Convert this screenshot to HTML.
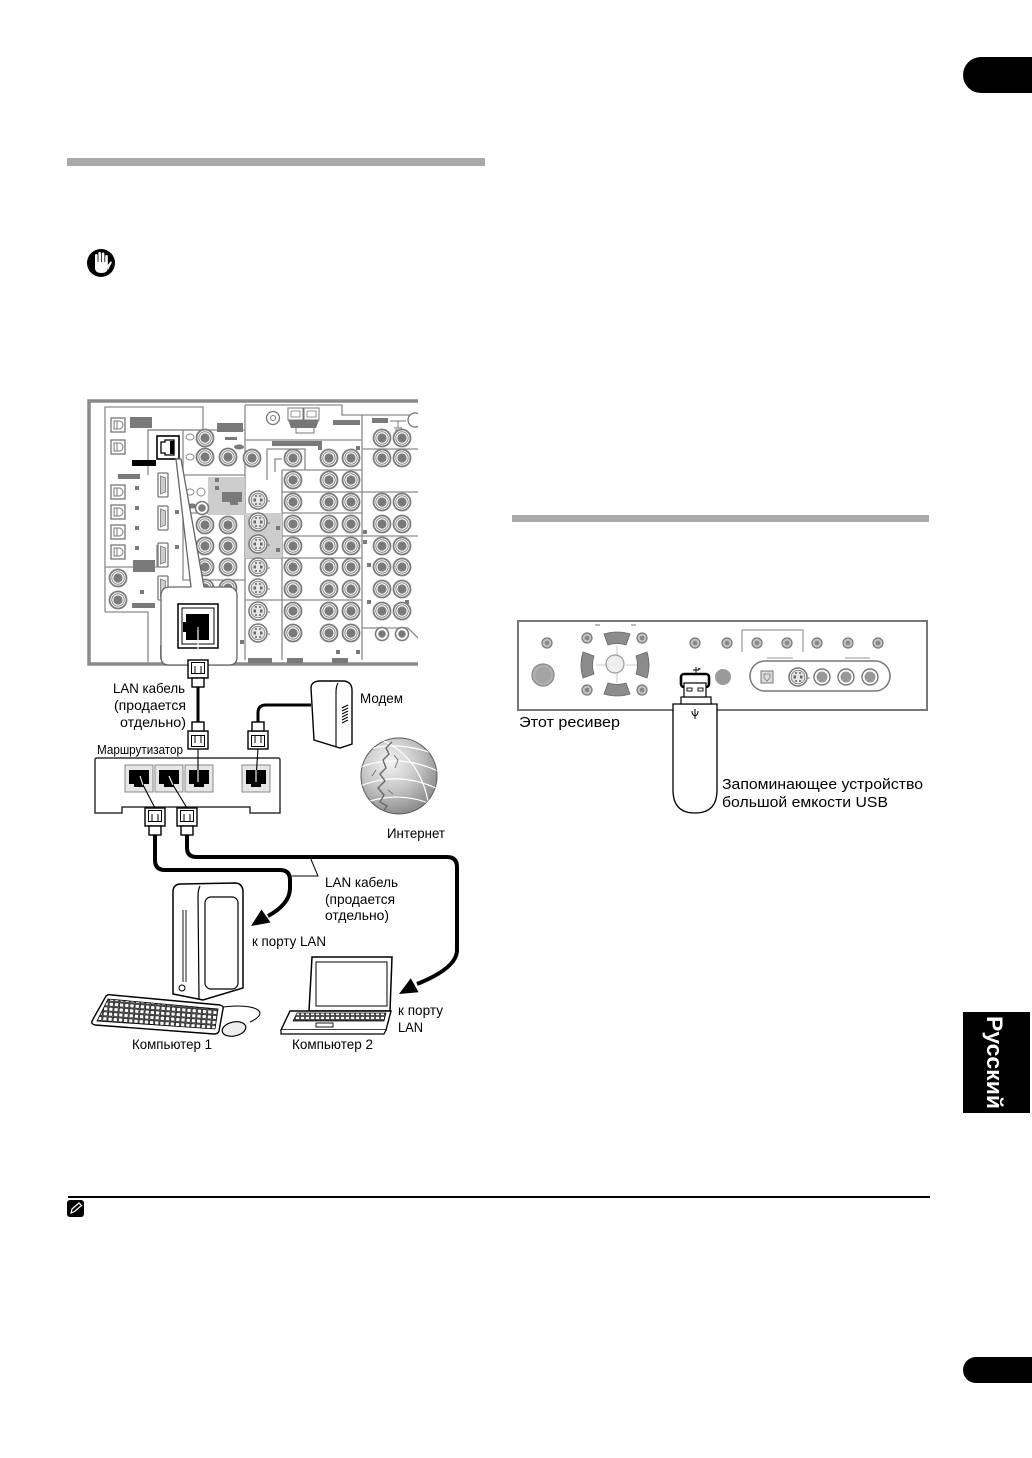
<!DOCTYPE html>
<html><head><meta charset="utf-8"><style>
html,body{margin:0;padding:0;background:#fff;}
body{width:1032px;height:1458px;overflow:hidden;position:relative;}
svg{position:absolute;left:0;top:0;}
</style></head><body>
<svg width="1032" height="1458" viewBox="0 0 1032 1458" xmlns="http://www.w3.org/2000/svg" font-family="'Liberation Sans', Arial, sans-serif">
<defs>
<g id="j"><circle r="8.5" fill="#fff" stroke="#7a7a7a" stroke-width="1.8"/><circle r="6.2" fill="#fff" stroke="#8a8a8a" stroke-width="1"/><circle r="4.6" fill="#7a7a7a"/></g>
<g id="js"><circle r="6.5" fill="#fff" stroke="#7a7a7a" stroke-width="1.6"/><circle r="3.8" fill="#7a7a7a"/></g>
<g id="sv"><circle r="9" fill="#fff" stroke="#7a7a7a" stroke-width="1.6"/><circle r="6.8" fill="#e6e6e6" stroke="#888"/><rect x="-4.5" y="-1.5" width="2.5" height="3" fill="#666"/><rect x="2" y="-1.5" width="2.5" height="3" fill="#666"/><circle cx="-2" cy="-4" r="1" fill="#666"/><circle cx="2" cy="-4" r="1" fill="#666"/><circle cx="-2" cy="4" r="1" fill="#666"/><circle cx="2" cy="4" r="1" fill="#666"/><circle cx="11" cy="1" r="0.8" fill="#666"/></g>
<g id="opt"><rect x="-7" y="-7" width="14" height="14" fill="#fff" stroke="#777" stroke-width="1.3"/><path d="M-4,-4 H1 A4,4 0 0 1 1,4 H-4 Z" fill="#fff" stroke="#777"/><line x1="-1" y1="-4" x2="-1" y2="4" stroke="#777"/></g>
<g id="hdmi"><rect x="-5" y="-12" width="10" height="24" rx="1" fill="#fff" stroke="#777" stroke-width="1.3"/><path d="M-2.5,-9 L2.5,-7 V7 L-2.5,9 Z" fill="#ccc" stroke="#777" stroke-width="0.8"/></g>
<g id="plug"><rect x="-10" y="0" width="20" height="18" fill="#fff" stroke="#000" stroke-width="1.4"/><rect x="-6.5" y="2.5" width="13" height="11" fill="#fff" stroke="#000" stroke-width="1"/><path d="M-3,6 V13.5 M3,6 V13.5" stroke="#000" stroke-width="1"/><rect x="-6" y="18" width="12" height="9" fill="#fff" stroke="#000" stroke-width="1.4"/></g>
<g id="rp"><rect x="0" y="0" width="28" height="27" fill="#e6e6e6" stroke="#888" stroke-width="1"/><path d="M4,5 H24 V19 H19 V22 H9 V19 H4 Z" fill="#000"/></g>
<g id="fd"><circle r="5" fill="#c4c4c4" stroke="#777" stroke-width="1.2"/><circle r="2.4" fill="#8a8a8a"/></g>
<pattern id="kp" width="5.2" height="5" patternUnits="userSpaceOnUse" patternTransform="rotate(4.5)"><rect x="0.4" y="0.4" width="4.2" height="4" fill="#fff" stroke="#111" stroke-width="0.8"/></pattern>
<pattern id="kp2" width="5" height="4" patternUnits="userSpaceOnUse"><rect x="0.4" y="0.4" width="4" height="3.2" fill="#fff" stroke="#111" stroke-width="0.7"/></pattern>
<radialGradient id="gl" cx="0.38" cy="0.32" r="0.7"><stop offset="0" stop-color="#f4f4f4"/><stop offset="0.55" stop-color="#c4c4c4"/><stop offset="1" stop-color="#8c8c8c"/></radialGradient>
<clipPath id="pc"><rect x="86" y="398" width="332" height="268"/></clipPath>
<clipPath id="gc"><circle cx="399" cy="776" r="38"/></clipPath>
</defs>

<!-- header tabs & bars -->
<path d="M981,57 H1032 V93 H981 A18,18 0 0 1 981,57 Z" fill="#000"/>
<path d="M976,1357 H1032 V1383 H976 A13,13 0 0 1 976,1357 Z" fill="#000"/>
<rect x="67" y="158" width="418" height="8" fill="#aaa"/>
<rect x="512" y="515" width="417" height="7" fill="#aaa"/>

<!-- hand icon -->
<circle cx="101" cy="263" r="14" fill="#000"/>
<g fill="#fff"><rect x="95" y="254" width="2.6" height="10" rx="1.3"/><rect x="98.4" y="252" width="2.6" height="11" rx="1.3"/><rect x="101.8" y="252.5" width="2.6" height="11" rx="1.3"/><rect x="105.2" y="255" width="2.6" height="9" rx="1.3"/><path d="M95,262 H107.8 V268 Q107.8,273 101,273 Q96,273 95,269 Z"/><path d="M107,266 L110.5,261.5 Q112,261 111.6,263 L108,270 Z"/></g>

<!-- Russian tab -->
<rect x="963" y="1012" width="67" height="101" fill="#000"/>
<text transform="translate(987,1016) rotate(90)" font-size="22" font-weight="bold" fill="#fff" textLength="93" lengthAdjust="spacingAndGlyphs">Русский</text>

<!-- footnote -->
<rect x="68" y="1196" width="862" height="2" fill="#000"/>
<rect x="67" y="1200" width="17" height="17" rx="3" fill="#000"/>
<path d="M71,1213 L72,1209 L79,1203 L81.5,1205.5 L74.5,1211.5 Z" fill="none" stroke="#fff" stroke-width="1.2"/>

<!-- ================= RECEIVER BACK PANEL ================= -->
<g clip-path="url(#pc)">
<g fill="none" stroke="#8a8a8a" stroke-width="1.3">
<path d="M105,612 V407 H203 V430 H148 V475"/>
<path d="M148,430 H245"/>
<path d="M183,430 V580 H245"/>
<path d="M183,475 H245"/>
<path d="M183,513 H245"/>
<path d="M245,405 V660"/>
<path d="M245,405 H342 V415 H418"/>
<path d="M245,440 H362"/>
<path d="M362,415 V660"/>
<path d="M362,449 H418"/>
<path d="M267,480 V449 H305 V470"/>
<path d="M282,470 V660"/>
<path d="M282,470 H362"/>
<path d="M282,492 H418"/>
<path d="M282,513 H362"/>
<path d="M282,536 H418"/>
<path d="M245,558 H362"/>
<path d="M245,600 H362"/>
<path d="M362,628 H408 L418,638"/>
<path d="M105,612 H148 V662"/>
<path d="M105,567 H157 V545"/>
<path d="M275,472 V459 H282"/>
</g>
<rect x="208" y="477" width="37" height="38" fill="#cdcdcd"/>
<rect x="245" y="513" width="37" height="45" fill="#cdcdcd"/>

<!-- frame -->
<path d="M418,401 H89 V664 H418" fill="none" stroke="#8a8a8a" stroke-width="3.5"/>

<!-- grey labels -->
<g fill="#7a7a7a">
<rect x="130" y="417" width="22" height="11"/><rect x="217" y="423" width="26" height="9"/><rect x="225" y="437" width="12" height="3"/>
<rect x="118" y="474" width="22" height="5"/><rect x="222" y="492" width="20" height="10"/><rect x="133" y="560" width="22" height="12"/>
<rect x="333" y="420" width="27" height="5"/><rect x="372" y="418" width="16" height="5"/><rect x="272" y="441" width="50" height="5"/>
<rect x="132" y="603" width="23" height="5"/><rect x="248" y="658" width="24" height="5"/><rect x="287" y="658" width="16" height="5"/><rect x="332" y="658" width="16" height="5"/>
<ellipse cx="239" cy="447" rx="5" ry="2.5"/><ellipse cx="192" cy="506" rx="5" ry="2.5"/>
<rect x="135" y="486" width="4" height="4"/><rect x="135" y="506" width="4" height="4"/><rect x="135" y="526" width="4" height="4"/><rect x="135" y="546" width="4" height="4"/>
<rect x="175" y="510" width="4" height="4"/><rect x="175" y="545" width="4" height="4"/><rect x="215" y="478" width="4" height="4"/><rect x="215" y="486" width="4" height="4"/>
<rect x="318" y="446" width="4" height="4"/><rect x="356" y="446" width="4" height="4"/><rect x="276" y="526" width="4" height="4"/><rect x="276" y="548" width="4" height="4"/>
<rect x="363" y="530" width="4" height="4"/><rect x="363" y="540" width="4" height="4"/><rect x="336" y="650" width="4" height="4"/><rect x="356" y="650" width="4" height="4"/>
<rect x="142" y="563" width="4" height="4"/><rect x="140" y="590" width="4" height="4"/><rect x="197" y="504" width="7" height="3"/><rect x="230" y="502" width="8" height="3"/>
<rect x="367" y="563" width="4" height="4"/><rect x="367" y="600" width="4" height="4"/><rect x="405" y="600" width="4" height="4"/><rect x="240" y="640" width="4" height="4"/><rect x="160" y="645" width="5" height="14"/>
</g>
<rect x="132" y="460" width="24" height="6" fill="#000"/>

<!-- top connectors -->
<circle cx="273" cy="418" r="6.5" fill="#fff" stroke="#777" stroke-width="1.3"/><circle cx="273" cy="418" r="2.5" fill="none" stroke="#777"/>
<rect x="288" y="408" width="15" height="12" fill="#fff" stroke="#777"/><rect x="304" y="408" width="15" height="12" fill="#fff" stroke="#777"/>
<rect x="291" y="411" width="9" height="6" fill="none" stroke="#777" stroke-width="0.8"/><rect x="307" y="411" width="9" height="6" fill="none" stroke="#777" stroke-width="0.8"/>
<path d="M288,420 H319 L316,428 H291 Z" fill="#777"/>
<path d="M296,428 V433 H314 V428" fill="none" stroke="#777"/>
<circle cx="415" cy="420" r="7" fill="#fff" stroke="#777" stroke-width="1.3"/>
<path d="M390,421 H406 M398,421 V428 M394,428 H402 M395,430 H401" stroke="#777" stroke-width="1"/>

<!-- small ovals -->
<ellipse cx="190" cy="437" rx="4" ry="3" fill="#fff" stroke="#888"/><ellipse cx="190" cy="457" rx="4" ry="3" fill="#fff" stroke="#888"/>
<ellipse cx="190" cy="492" rx="4" ry="3" fill="#fff" stroke="#888"/><circle cx="201" cy="492" r="4" fill="#fff" stroke="#888"/>

<!-- optical -->
<use href="#opt" x="118" y="425"/><use href="#opt" x="118" y="447"/><use href="#opt" x="118" y="492"/><use href="#opt" x="118" y="512"/><use href="#opt" x="118" y="532"/><use href="#opt" x="118" y="552"/>
<!-- hdmi -->
<use href="#hdmi" x="163" y="485"/><use href="#hdmi" x="163" y="518"/><use href="#hdmi" x="163" y="555"/><use href="#hdmi" x="163" y="588"/>
<!-- left jacks -->
<use href="#j" x="118" y="578"/><use href="#j" x="118" y="600"/>
<use href="#j" x="205" y="438"/><use href="#j" x="205" y="457"/><use href="#j" x="228" y="457"/>
<use href="#js" x="202" y="508"/>
<use href="#j" x="205" y="525"/><use href="#j" x="228" y="525"/><use href="#j" x="205" y="546"/><use href="#j" x="228" y="546"/><use href="#j" x="205" y="567"/><use href="#j" x="228" y="567"/><use href="#j" x="205" y="588"/><use href="#j" x="228" y="588"/>
<use href="#j" x="252" y="458"/>
<!-- s-video -->
<use href="#sv" x="258" y="500"/><use href="#sv" x="258" y="522"/><use href="#sv" x="258" y="544"/><use href="#sv" x="258" y="567"/><use href="#sv" x="258" y="588"/><use href="#sv" x="258" y="611"/><use href="#sv" x="258" y="633"/>
<!-- grid jacks -->
<use href="#j" x="293" y="458"/><use href="#j" x="329" y="458"/><use href="#j" x="351" y="458"/>
<use href="#j" x="293" y="480"/><use href="#j" x="329" y="480"/><use href="#j" x="351" y="480"/>
<use href="#j" x="293" y="502"/><use href="#j" x="329" y="502"/><use href="#j" x="351" y="502"/>
<use href="#j" x="293" y="524"/><use href="#j" x="329" y="524"/><use href="#j" x="351" y="524"/>
<use href="#j" x="293" y="546"/><use href="#j" x="329" y="546"/><use href="#j" x="351" y="546"/>
<use href="#j" x="293" y="567"/><use href="#j" x="329" y="567"/><use href="#j" x="351" y="567"/>
<use href="#j" x="293" y="589"/><use href="#j" x="329" y="589"/><use href="#j" x="351" y="589"/>
<use href="#j" x="293" y="611"/><use href="#j" x="329" y="611"/><use href="#j" x="351" y="611"/>
<use href="#j" x="293" y="633"/><use href="#j" x="329" y="633"/><use href="#j" x="351" y="633"/>
<use href="#j" x="382" y="438"/><use href="#j" x="402" y="438"/><use href="#j" x="382" y="458"/><use href="#j" x="402" y="458"/>
<use href="#j" x="382" y="502"/><use href="#j" x="402" y="502"/><use href="#j" x="382" y="524"/><use href="#j" x="402" y="524"/>
<use href="#j" x="382" y="546"/><use href="#j" x="402" y="546"/><use href="#j" x="382" y="567"/><use href="#j" x="402" y="567"/>
<use href="#j" x="382" y="589"/><use href="#j" x="402" y="589"/><use href="#j" x="382" y="611"/><use href="#j" x="402" y="611"/>
<use href="#js" x="382" y="634"/><use href="#js" x="402" y="634"/>

<!-- small LAN port -->
<rect x="157" y="436" width="22" height="23" fill="#fff" stroke="#000" stroke-width="1.6"/>
<path d="M161,442 H165 V440 H174 V455 H165 V453 H161 Z" fill="#fff" stroke="#000" stroke-width="1.3"/>
<rect x="170" y="441" width="4" height="13" fill="#000"/>

<!-- callout -->
<path d="M161,596 Q161,587 170,587 L191,587 L176,459 L181,459 L204,587 L228,587 Q237,587 237,596 L237,657 Q237,665 229,665 L169,665 Q161,665 161,657 Z" fill="#fff" stroke="#666" stroke-width="1.3" stroke-linejoin="round"/>
<rect x="178" y="604" width="40" height="44" fill="#fff" stroke="#000" stroke-width="1.5"/>
<path d="M182,608 H214 V644 H182 Z" fill="none" stroke="#000" stroke-width="1"/>
<path d="M186,614 H209 V640 H186 V632 H183 V622 H186 Z" fill="#000"/>
<line x1="198" y1="627" x2="198" y2="668" stroke="#fff" stroke-width="1"/>
</g>

<!-- cable from receiver to router -->
<line x1="198" y1="630" x2="198" y2="662" stroke="#fff" stroke-width="1.2"/>
<use href="#plug" x="198" y="660"/>
<line x1="198" y1="687" x2="198" y2="722" stroke="#000" stroke-width="3"/>
<use href="#plug" transform="translate(198,749) scale(1,-1)"/>

<!-- modem -->
<path d="M311,688 C311,683 315,681 320,681 L343,681 C349,681 352,685 352,690 L352,744 L340,748 L314,740 Z" fill="#fff" stroke="#000" stroke-width="1.4"/>
<path d="M338,683 C336,686 336,690 336,694 L336,747" fill="none" stroke="#000" stroke-width="1.1"/>
<path d="M342,708 L348,705 M342,711 L348,708 M342,714 L348,711 M342,717 L348,714 M342,720 L348,717 M342,723 L348,720" stroke="#000" stroke-width="1"/>
<path d="M311,705 H266 Q258,705 258,713 V722" fill="none" stroke="#000" stroke-width="3"/>
<use href="#plug" transform="translate(258,749) scale(1,-1)"/>

<!-- router -->
<path d="M95,760 Q95,758 97,758 H278 Q280,758 280,760 V813 H250 V807 H122 V813 H95 Z" fill="#fff" stroke="#333" stroke-width="1.5"/>
<use href="#rp" x="125" y="765"/><use href="#rp" x="155" y="765"/><use href="#rp" x="185" y="765"/><use href="#rp" x="242" y="765"/>
<g stroke="#000" stroke-width="1.1" fill="none">
<line x1="198" y1="749" x2="198" y2="778"/>
<line x1="258" y1="749" x2="256" y2="778"/>
</g>
<g stroke="#fff" stroke-width="1.1"><line x1="198" y1="770" x2="198" y2="782"/><line x1="256" y1="770" x2="256" y2="782"/><line x1="140" y1="776" x2="143" y2="785"/><line x1="169" y1="776" x2="173" y2="785"/></g>
<g stroke="#000" stroke-width="1.1"><line x1="143" y1="785" x2="155" y2="808"/><line x1="173" y1="785" x2="187" y2="808"/></g>
<use href="#plug" x="155" y="808"/><use href="#plug" x="187" y="808"/>

<!-- globe -->
<circle cx="399" cy="776" r="38" fill="url(#gl)" stroke="#555" stroke-width="1"/>
<g clip-path="url(#gc)">
<g fill="none" stroke="#fff" stroke-width="1.2">
<path d="M360,752 Q395,738 440,756"/><path d="M358,768 Q398,752 440,772"/><path d="M360,786 Q400,770 440,790"/><path d="M364,803 Q402,789 440,808"/><path d="M382,740 Q425,760 430,815"/>
</g>
<path d="M392,742 L386,748 L389,754 L383,760 L386,768 L380,774 L385,781 L378,788 L384,795 L380,802 L387,806 L383,812" fill="none" stroke="#6a6a6a" stroke-width="1.4"/>
<path d="M394,755 L398,760 L395,768 M388,790 L393,794 M376,770 L372,776" fill="none" stroke="#777" stroke-width="1"/>
</g>

<!-- lower cables -->
<path d="M155,835 V860 Q155,870 165,870 H280 Q290,870 290,880 V888 Q290,904 268,916" fill="none" stroke="#000" stroke-width="4"/>
<path d="M251,926 L270.5,922.5 L261.5,909.5 Z" fill="#000"/>
<path d="M187,835 V848 Q187,857 197,857 H447 Q457,857 457,867 V950 Q457,968 417,984" fill="none" stroke="#000" stroke-width="4"/>
<path d="M399,994 L418.6,992.2 L410.8,978.2 Z" fill="#000"/>
<path d="M310,857 L318,876 L292,876" fill="none" stroke="#000" stroke-width="1"/>

<!-- PC tower -->
<path d="M173,892 Q173,884 181,884 L236,883 Q243,884 243,892 L243,988 L203,1000 L173,994 Z" fill="#fff" stroke="#000" stroke-width="1.5"/>
<path d="M200,886 Q198,890 198,896 L199,999" fill="none" stroke="#000" stroke-width="1.2"/>
<rect x="205" y="897" width="33" height="92" rx="6" fill="none" stroke="#000" stroke-width="1.2"/>
<path d="M183,910 V982 M186,910 V982" stroke="#000" stroke-width="0.9"/>
<circle cx="182" cy="988" r="3" fill="#fff" stroke="#000"/>
<!-- keyboard -->
<path d="M106,996 Q108,994 112,995 L220,1005 Q224,1006 223,1009 L219,1031 Q218,1034 214,1034 L95,1025 Q91,1024 92,1021 Z" fill="#fff" stroke="#000" stroke-width="1.4"/>
<path d="M108,999 L218,1009 L215,1029 L97,1021 Z" fill="url(#kp)" stroke="#000" stroke-width="0.8"/>
<!-- mouse -->
<path d="M223,1007 C255,1003 272,1012 250,1022" fill="none" stroke="#000" stroke-width="1"/>
<ellipse cx="234" cy="1029" rx="12" ry="7" transform="rotate(-12 234 1029)" fill="#eee" stroke="#000" stroke-width="1.2"/>

<!-- laptop -->
<path d="M312,957 L392,957 L390,1011 L309,1011 Z" fill="#fff" stroke="#000" stroke-width="1.5"/>
<rect x="316" y="962" width="71" height="44" fill="#fff" stroke="#000" stroke-width="1"/>
<path d="M290,1011 L391,1011 L386,1030 L281,1030 Z" fill="#fff" stroke="#000" stroke-width="1.4"/>
<path d="M281,1030 V1034 H384 L386,1030" fill="#fff" stroke="#000" stroke-width="1.2"/>
<path d="M297,1013 L386,1013 L384,1021 L293,1021 Z" fill="url(#kp2)" stroke="#000" stroke-width="0.7"/>
<rect x="316" y="1023" width="17" height="4" fill="#fff" stroke="#000" stroke-width="0.9"/>

<!-- labels left diagram -->
<g font-size="14" fill="#000">
<text x="113" y="693" textLength="72" lengthAdjust="spacingAndGlyphs">LAN кабель</text>
<text x="114" y="710" textLength="72" lengthAdjust="spacingAndGlyphs">(продается</text>
<text x="120" y="727" textLength="66" lengthAdjust="spacingAndGlyphs">отдельно)</text>
<text x="97" y="754" font-size="13" textLength="86" lengthAdjust="spacingAndGlyphs">Маршрутизатор</text>
<text x="360" y="703" textLength="43" lengthAdjust="spacingAndGlyphs">Модем</text>
<text x="387" y="838" textLength="58" lengthAdjust="spacingAndGlyphs">Интернет</text>
<text x="325" y="887" textLength="73" lengthAdjust="spacingAndGlyphs">LAN кабель</text>
<text x="325" y="904" textLength="70" lengthAdjust="spacingAndGlyphs">(продается</text>
<text x="325" y="920" textLength="64" lengthAdjust="spacingAndGlyphs">отдельно)</text>
<text x="252" y="946" textLength="74" lengthAdjust="spacingAndGlyphs">к порту LAN</text>
<text x="398" y="1015" textLength="45" lengthAdjust="spacingAndGlyphs">к порту</text>
<text x="398" y="1032" textLength="25" lengthAdjust="spacingAndGlyphs">LAN</text>
<text x="132" y="1049" textLength="80" lengthAdjust="spacingAndGlyphs">Компьютер 1</text>
<text x="292" y="1049" textLength="81" lengthAdjust="spacingAndGlyphs">Компьютер 2</text>
</g>

<!-- ================= FRONT PANEL ================= -->
<rect x="518" y="621" width="409" height="89" fill="#fff" stroke="#777" stroke-width="2"/>
<circle cx="543" cy="675" r="11" fill="#b0b0b0" stroke="#888" stroke-width="1.3"/><circle cx="543" cy="675" r="8" fill="#a4a4a4"/>
<use href="#fd" x="547" y="643"/><use href="#fd" x="587" y="638"/><use href="#fd" x="642" y="638"/><use href="#fd" x="587" y="690"/><use href="#fd" x="642" y="690"/>
<use href="#fd" x="695" y="643"/><use href="#fd" x="727" y="643"/><use href="#fd" x="757" y="643"/><use href="#fd" x="787" y="643"/><use href="#fd" x="817" y="643"/><use href="#fd" x="848" y="643"/><use href="#fd" x="878" y="643"/>
<path d="M595,625 H600 M631,625 H636" stroke="#777"/>
<path d="M617,645 V655 M617,673 V683 M596,665 H606 M626,665 H638" stroke="#bbb" stroke-width="0.8"/>
<circle cx="615" cy="664" r="9" fill="#eee" stroke="#999" stroke-width="1.2"/>
<g fill="#8c8c8c" stroke="#666" stroke-width="0.8">
<path d="M604,634 Q617,630 630,634 L626,645 Q617,642 608,645 Z"/>
<path d="M604,694 Q617,698 630,694 L626,683 Q617,686 608,683 Z"/>
<path d="M583,652 Q579,665 583,678 L594,674 Q591,665 594,656 Z"/>
<path d="M647,652 Q651,665 647,678 L636,674 Q639,665 636,656 Z"/>
</g>
<path d="M742,652 V630 H803 V652" fill="none" stroke="#999" stroke-width="1.2"/>
<path d="M767,658 H793 M845,658 H870" stroke="#999" stroke-width="1"/>
<circle cx="723" cy="677" r="8" fill="#9a9a9a"/>
<rect x="750" y="661" width="140" height="30" rx="15" fill="#fff" stroke="#777" stroke-width="1.5"/>
<rect x="761" y="671" width="12" height="12" fill="#ddd" stroke="#777"/><path d="M764,674 H770 V678 L767,681 L764,678 Z" fill="none" stroke="#777" stroke-width="0.8"/>
<use href="#sv" x="798" y="677"/>
<g><circle cx="822" cy="677" r="8" fill="#fff" stroke="#777" stroke-width="1.4"/><circle cx="822" cy="677" r="5.5" fill="#999"/>
<circle cx="846" cy="677" r="8" fill="#fff" stroke="#777" stroke-width="1.4"/><circle cx="846" cy="677" r="5.5" fill="#999"/>
<circle cx="870" cy="677" r="8" fill="#fff" stroke="#777" stroke-width="1.4"/><circle cx="870" cy="677" r="5.5" fill="#999"/></g>

<!-- USB drive -->
<path d="M693,670 H699 M696,667 V673 M698,668 L700,669 L698,670" stroke="#000" stroke-width="0.9" fill="none"/>
<path d="M673,704 H717 V790 Q717,813 695,813 Q673,813 673,790 Z" fill="#fff" stroke="#000" stroke-width="1.3"/>
<rect x="681" y="697" width="30" height="7" fill="#fff" stroke="#000" stroke-width="1.2"/>
<rect x="681" y="674" width="28" height="13" rx="3" fill="#fff" stroke="#000" stroke-width="2.6"/>
<rect x="684" y="683" width="22" height="14" fill="#fff" stroke="#000" stroke-width="1.2"/>
<rect x="687" y="688" width="5" height="3" fill="none" stroke="#000" stroke-width="0.9"/><rect x="698" y="688" width="5" height="3" fill="none" stroke="#000" stroke-width="0.9"/>
<path d="M695,709 V719 M692,711 Q692,715 695,716 M698,711 Q698,715 695,716" stroke="#000" stroke-width="1" fill="none"/>

<g font-size="15" fill="#000">
<text x="519" y="727" textLength="101" lengthAdjust="spacingAndGlyphs">Этот ресивер</text>
<text x="722" y="789" textLength="201" lengthAdjust="spacingAndGlyphs">Запоминающее устройство</text>
<text x="722" y="807" textLength="166" lengthAdjust="spacingAndGlyphs">большой емкости USB</text>
</g>
</svg>
</body></html>
